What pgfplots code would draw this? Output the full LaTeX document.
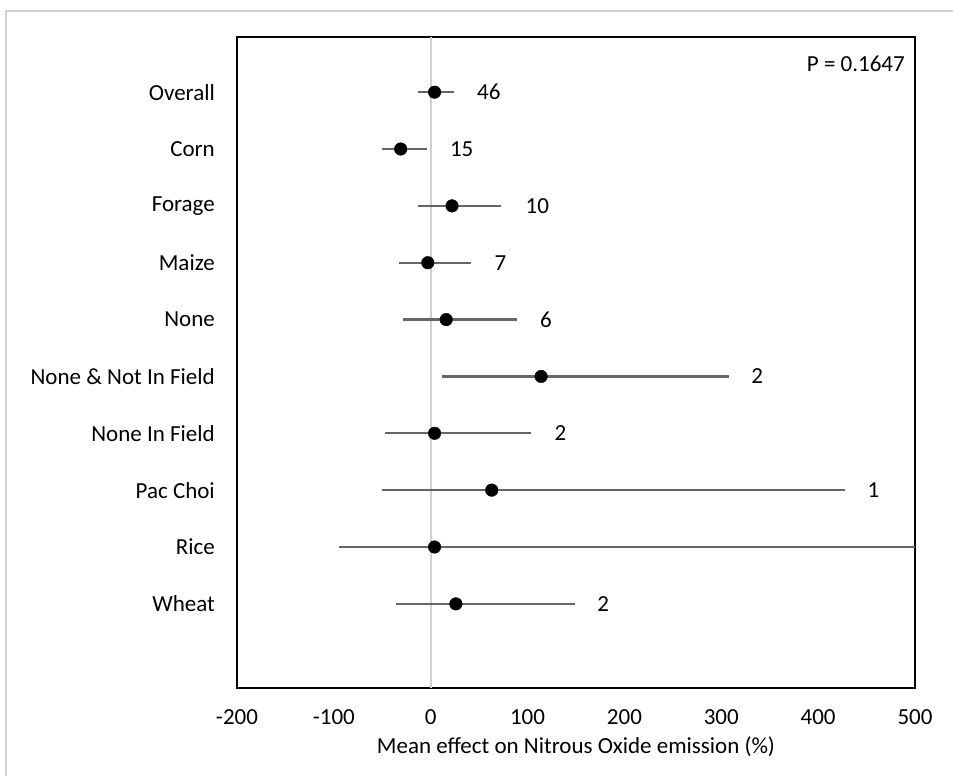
\documentclass[border=0pt]{standalone}
\usepackage{pgfplots}
\pgfplotsset{compat=1.18}
\usepackage{fontspec}
\setmainfont{Carlito}
\definecolor{errgray}{HTML}{666666}
\definecolor{zerogray}{HTML}{D0D0D0}
\begin{document}
\begin{tikzpicture}[font=\fontsize{23bp}{27bp}\selectfont]
\path[use as bounding box] (0,0) rectangle (953bp,776bp);
\draw[zerogray, line width=1.5bp] (6bp,0) -- (6bp,765bp) -- (953bp,765bp);
\begin{axis}[
  name=ax,
  at={(237bp,88bp)}, anchor=south west,
  scale only axis, width=678bp, height=651bp,
  xmin=-200, xmax=500, ymin=0.03, ymax=11.48,
  y dir=reverse,
  axis line style={black, line width=2.5bp},
  major tick length=0pt,
  xtick={-200,-100,0,100,200,300,400,500},
  xticklabels={-200,-100,0,100,200,300,400,500},
  ytick={1,2,3,4,5,6,7,8,9,10},
  yticklabels={Overall,Corn,Forage,Maize,None,None \& Not In Field,None In Field,Pac Choi,Rice,Wheat},
  xticklabel style={anchor=center, yshift=-29bp},
  yticklabel style={anchor=east, inner sep=0pt, xshift=-22bp},
  xlabel={Mean effect on Nitrous Oxide emission (\%)},
  xlabel style={at={(axis description cs:0.5,0)}, anchor=center, yshift=-59bp},
]
\addplot[zerogray, line width=1.8bp] coordinates {(0,0.03) (0,11.48)};
\addplot[only marks, mark=*, mark size=6.3bp, mark options={fill=black, draw=black},
  error bars/.cd, x dir=both, x explicit, error mark=none,
  error bar style={errgray, line width=2.4bp}]
  table[x=x, y=y, x error plus=ep, x error minus=em] {
  x    y   ep   em
  4    1   20   17
  -31  2   27   19
  22   3   51   35
  -3   4   45   30
  16   5   73   45
  114  6   194  102
  4    7   100  51
  63   8   365  113
  4    9   596  99
  26   10  123  62
};
\addplot[draw=none, mark=none, nodes near coords, point meta=explicit symbolic,
  nodes near coords style={anchor=center, black}]
  table[x=x, y=y, meta=n] {
  x    y   n
  60   1   46
  32   2   15
  110  3   10
  72   4   7
  119  5   6
  337  6   2
  134  7   2
  457  8   1
  178  10  2
};
\end{axis}
\node[anchor=east, inner sep=0pt] at ([xshift=-10bp, yshift=-27bp]ax.north east) {P = 0.1647};
\end{tikzpicture}
\end{document}
